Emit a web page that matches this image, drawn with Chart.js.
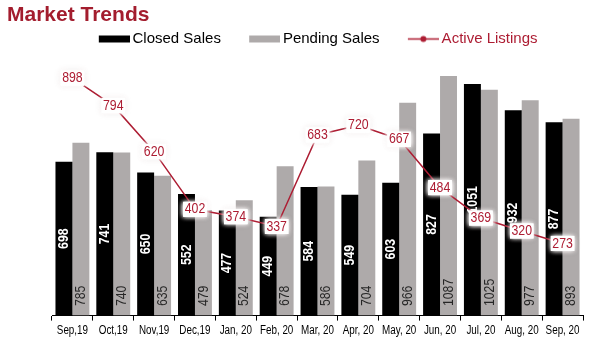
<!DOCTYPE html>
<html>
<head>
<meta charset="utf-8">
<script src="https://cdn.jsdelivr.net/npm/chart.js@4"></script>
<style>
  html, body { margin: 0; padding: 0; background: #fff; }
  #wrap { width: 593px; height: 344px; }
</style>
</head>
<body>
<div id="wrap"><canvas id="myChart" width="593" height="344"></canvas></div>
<script>
var months = ['Sep,19', 'Oct,19', 'Nov,19', 'Dec,19', 'Jan, 20', 'Feb, 20', 'Mar, 20',
              'Apr, 20', 'May, 20', 'Jun, 20', 'Jul, 20', 'Aug, 20', 'Sep, 20'];
var closedSales = [698, 741, 650, 552, 477, 449, 584, 549, 603, 827, 1051, 932, 877];
var pendingSales = [785, 740, 635, 479, 524, 678, 586, 704, 966, 1087, 1025, 977, 893];
var activeListings = [898, 794, 620, 402, 374, 337, 683, 720, 667, 484, 369, 320, 273];

var RED = '#AD1D33';
var GRAY = '#AEAAAA';
var ARIAL = '"Liberation Sans", Arial, sans-serif';
var SQUEEZE = 0.82;   // narrow-face look from Liberation Sans

// legend nudges (legend padding is also used as the gap between items)
var LEGEND_DX = 18;
var LEGEND_DY = -24.7;

// small legend icons: a bar swatch and a line with a dot
function makeIcon(kind, color) {
    var c = document.createElement('canvas');
    c.width = 36;
    c.height = 9;
    var g = c.getContext('2d');
    if (kind === 'bar') {
        g.fillStyle = color;
        g.fillRect(5, 1, 31, 7);
    } else {
        g.strokeStyle = color;
        g.lineWidth = 1.5;
        g.beginPath();
        g.moveTo(5, 4.5);
        g.lineTo(36, 4.5);
        g.stroke();
        g.fillStyle = color;
        g.beginPath();
        g.arc(20.5, 4.5, 3, 0, Math.PI * 2);
        g.fill();
    }
    return c;
}
var icons = [makeIcon('bar', '#000'), makeIcon('bar', GRAY), makeIcon('line', RED)];

// text squeezed along its own direction; angle in radians
function narrowText(ctx, text, x, y, align, angle) {
    ctx.save();
    ctx.translate(x, y);
    if (angle) ctx.rotate(angle);
    ctx.scale(SQUEEZE, 1);
    ctx.textAlign = align;
    ctx.textBaseline = 'middle';
    ctx.fillText(text, 0, 0);
    ctx.restore();
}

var valueLabels = {
    id: 'valueLabels',
    afterLayout: function (chart) {
        var lg = chart.legend;
        lg.left += LEGEND_DX;
        lg.right += LEGEND_DX;
        lg.top += LEGEND_DY;
    },
    afterDatasetDraw: function (chart, args) {
        var ds = chart.data.datasets[args.index];
        if (ds.type === 'line') return;
        var ctx = chart.ctx;
        ctx.save();
        args.meta.data.forEach(function (bar, i) {
            if (args.index === 0) {
                ctx.font = 'bold 15px ' + ARIAL;
                ctx.fillStyle = '#fff';
                narrowText(ctx, String(ds.data[i]), bar.x, (bar.y + bar.base) / 2, 'center', -Math.PI / 2);
            } else {
                ctx.font = '15px ' + ARIAL;
                ctx.fillStyle = '#262626';
                narrowText(ctx, String(ds.data[i]), bar.x, bar.base - 9.5, 'left', -Math.PI / 2);
            }
        });
        ctx.restore();
    },
    afterDatasetsDraw: function (chart) {
        var ctx = chart.ctx;
        var meta = chart.getDatasetMeta(2);
        var data = chart.data.datasets[2].data;
        ctx.save();
        ctx.font = '15px ' + ARIAL;
        meta.data.forEach(function (pt, i) {
            var t = String(data[i]);
            var w = ctx.measureText(t).width * SQUEEZE;
            // soft white glow behind the number
            ctx.save();
            ctx.fillStyle = '#fff';
            ctx.shadowColor = 'rgba(170,130,130,0.3)';
            ctx.shadowBlur = 6;
            ctx.fillRect(pt.x - w / 2 - 1, pt.y - 7, w + 2, 14);
            ctx.shadowColor = '#fff';
            ctx.shadowBlur = 5;
            ctx.fillRect(pt.x - w / 2 - 1.5, pt.y - 7.5, w + 3, 15);
            ctx.fillRect(pt.x - w / 2 - 1.5, pt.y - 7.5, w + 3, 15);
            ctx.restore();
            ctx.fillStyle = RED;
            narrowText(ctx, t, pt.x, pt.y, 'center', 0);
        });
        ctx.restore();
    },
    afterDraw: function (chart) {
        // month labels under the axis, narrow like the value labels
        var ctx = chart.ctx;
        var xs = chart.scales.x;
        ctx.save();
        ctx.font = '12px ' + ARIAL;
        ctx.fillStyle = '#000';
        chart.data.labels.forEach(function (lab, i) {
            narrowText(ctx, lab, xs.getPixelForTick(i), xs.top + 15, 'center', 0);
        });
        ctx.restore();
    }
};

var ctx = document.querySelector('#myChart').getContext('2d');
var myChart = new Chart(ctx, {
    data: {
        labels: months,
        datasets: [{
            type: 'bar',
            label: 'Closed Sales',
            data: closedSales,
            backgroundColor: '#000',
            yAxisID: 'y',
            order: 1
        }, {
            type: 'bar',
            label: 'Pending Sales',
            data: pendingSales,
            backgroundColor: GRAY,
            yAxisID: 'y',
            order: 1
        }, {
            type: 'line',
            label: 'Active Listings',
            data: activeListings,
            borderColor: RED,
            borderWidth: 1.5,
            pointRadius: 0,
            tension: 0,
            yAxisID: 'y1',
            order: 0
        }]
    },
    options: {
        responsive: false,
        animation: false,
        events: [],
        datasets: {
            bar: { categoryPercentage: 0.83, barPercentage: 1 }
        },
        layout: { padding: { left: 7, right: 0, top: 0, bottom: 5 } },
        plugins: {
            title: {
                display: true,
                text: 'Market Trends',
                align: 'start',
                color: '#A31D2E',
                font: { family: ARIAL, size: 21, weight: 'bold' },
                padding: { top: 3, bottom: 0 }
            },
            legend: {
                maxHeight: 23,
                labels: {
                    usePointStyle: true,
                    pointStyleWidth: 26.5,
                    padding: 28,
                    font: { family: ARIAL, size: 15 },
                    generateLabels: function (chart) {
                        return chart.data.datasets.map(function (ds, i) {
                            return {
                                text: ds.label,
                                pointStyle: icons[i],
                                fontColor: i === 2 ? RED : '#000',
                                fillStyle: 'transparent',
                                strokeStyle: 'transparent',
                                lineWidth: 0,
                                hidden: false,
                                datasetIndex: i
                            };
                        });
                    }
                }
            },
            tooltip: { enabled: false }
        },
        scales: {
            x: {
                grid: { offset: true, drawOnChartArea: false, color: '#000', tickLength: 5 },
                border: { color: '#000' },
                ticks: {
                    color: 'transparent',
                    padding: 2,
                    maxRotation: 0,
                    autoSkip: false,
                    font: { family: ARIAL, size: 12 }
                }
            },
            y: {
                position: 'left',
                min: 0,
                max: 1200,
                ticks: { display: false },
                grid: { display: false },
                border: { display: false },
                afterFit: function (s) { s.width = 45; }
            },
            y1: {
                position: 'right',
                min: 0,
                max: 1000,
                ticks: { display: false },
                grid: { display: false },
                border: { display: false },
                afterFit: function (s) { s.width = 10; }
            }
        }
    },
    plugins: [valueLabels]
});
</script>
</body>
</html>
